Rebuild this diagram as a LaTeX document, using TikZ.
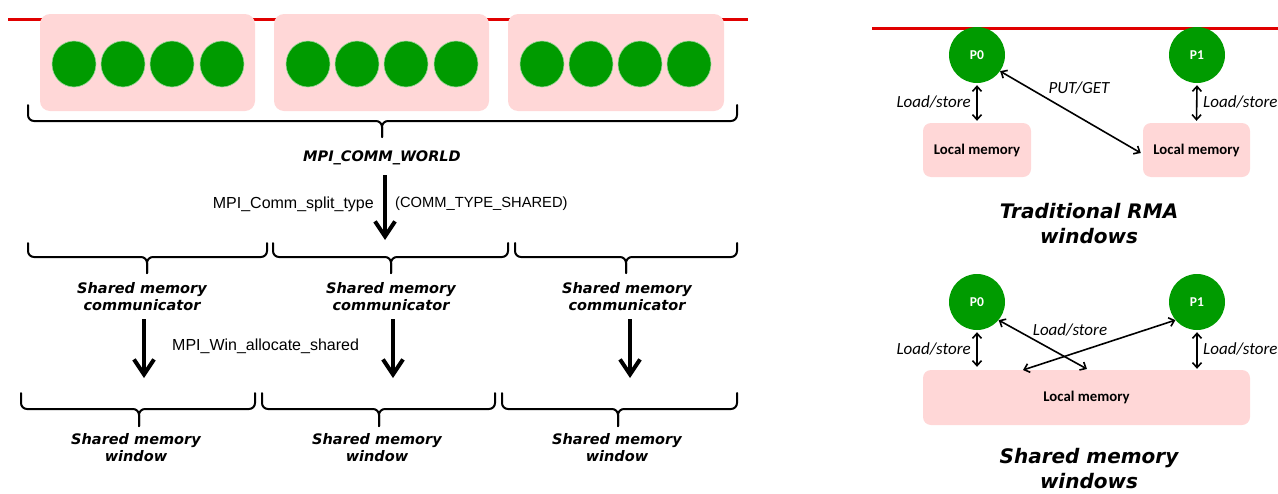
\documentclass[tikz,border=0pt]{standalone}
\usepackage{fontspec}
\setmainfont{DejaVu Sans}
\newfontfamily\verd{DejaVu Sans}
\newfontfamily\libs{Liberation Sans}
\newfontfamily\calib{Carlito}
\usetikzlibrary{arrows.meta,shapes.geometric}
\definecolor{pinkbox}{RGB}{255,215,215}
\definecolor{procgreen}{RGB}{0,155,0}
\definecolor{redline}{RGB}{224,0,0}
\tikzset{
  bracestyle/.style={line width=2pt, rounded corners=6pt, line cap=round},
  groupbox/.style={fill=pinkbox, rounded corners=10pt, minimum height=97pt, inner sep=0pt},
  proc/.style={ellipse, fill=procgreen, draw=procgreen!40!white, line width=0.6pt, minimum width=44pt, minimum height=46pt, inner sep=0pt},
  bigproc/.style={circle, fill=procgreen, minimum size=56pt, inner sep=0pt, text=white, font=\calib\bfseries\fontsize{13.5}{15}\selectfont},
  membox/.style={fill=pinkbox, rounded corners=8pt, minimum height=55pt, inner sep=0pt, font=\calib\bfseries\fontsize{14.8}{16}\selectfont},
  ltitle/.style={font=\verd\bfseries\itshape\fontsize{14.5}{17}\selectfont, align=center, inner sep=0pt},
  rtitle/.style={font=\verd\bfseries\itshape\fontsize{20}{25}\selectfont, align=center, inner sep=0pt},
  calltxt/.style={font=\libs\fontsize{16}{18}\selectfont, inner sep=0pt},
  capstxt/.style={font=\libs\fontsize{14.7}{18}\selectfont, inner sep=0pt},
  lstxt/.style={font=\calib\itshape\fontsize{17}{19}\selectfont, inner sep=0pt},
  bigarrow/.style={line width=4pt, -{Straight Barb[length=15pt,width=20pt]}},
  dblarrow/.style={line width=1.6pt, {Straight Barb[length=5pt,width=9pt]}-{Straight Barb[length=5pt,width=9pt]}},
  redrule/.style={draw=redline, line width=3pt}
}
\newcommand\bracedn[6]{%
  \draw[bracestyle] (#1,#4) -- (#1,#5) -- (#3,#5) -- (#3,#6);
  \draw[bracestyle] (#2,#4) -- (#2,#5) -- (#3,#5) -- (#3,#6);}
\begin{document}
\begin{tikzpicture}[x=1pt,y=-1pt]
\useasboundingbox (0,0) rectangle (1278,493);
% ---------------- left panel ----------------
\coordinate (rl0) at (8,19);
\coordinate (rl1) at (748,19);
\draw[redrule] (rl0) -- (rl1);
\node[groupbox, minimum width=215pt] (g1) at (147.5,62.5) {};
\node[groupbox, minimum width=215pt] (g2) at (381.5,62.5) {};
\node[groupbox, minimum width=216pt] (g3) at (616,62.5) {};
\foreach \i/\x in {1/74,2/123,3/172,4/222}{\node[proc] (pa\i) at (\x,64) {};}
\foreach \i/\x in {1/308,2/357,3/406,4/456}{\node[proc] (pb\i) at (\x,64) {};}
\foreach \i/\x in {1/542,2/591,3/640,4/689}{\node[proc] (pc\i) at (\x,64) {};}

\bracedn{28}{737}{382}{105}{121}{137}
\node[ltitle] (world) at (382,158) {MPI\_COMM\_WORLD};

\coordinate (s0) at (385,175);
\coordinate (s1) at (385,240);
\draw[bigarrow] (s0) -- (s1);
\node[calltxt, anchor=east] (split) at (374,204) {MPI\_Comm\_split\_type};
\node[capstxt, anchor=west] (shared) at (395,204) {(COMM\_TYPE\_SHARED)};

\bracedn{28}{267}{147}{243}{257}{273}
\bracedn{273}{508}{391}{243}{257}{273}
\bracedn{515}{737}{626}{243}{257}{273}
\node[ltitle] (comm1) at (142,297) {Shared memory\\communicator};
\node[ltitle] (comm2) at (391,297) {Shared memory\\communicator};
\node[ltitle] (comm3) at (627,297) {Shared memory\\communicator};

\coordinate (w1a) at (144,319); \coordinate (w1b) at (144,378);
\coordinate (w2a) at (393,319); \coordinate (w2b) at (393,378);
\coordinate (w3a) at (630,319); \coordinate (w3b) at (630,378);
\draw[bigarrow] (w1a) -- (w1b);
\draw[bigarrow] (w2a) -- (w2b);
\draw[bigarrow] (w3a) -- (w3b);
\node[calltxt, anchor=west] (alloc) at (172,346) {MPI\_Win\_allocate\_shared};

\bracedn{21}{255}{139}{393}{409}{426}
\bracedn{262}{495}{379}{393}{409}{426}
\bracedn{502}{737}{618}{393}{409}{426}
\node[ltitle] (win1) at (136,448) {Shared memory\\window};
\node[ltitle] (win2) at (377,448) {Shared memory\\window};
\node[ltitle] (win3) at (617,448) {Shared memory\\window};

% ---------------- right panel: traditional RMA ----------------
\coordinate (rr0) at (872,28);
\coordinate (rr1) at (1278,28);
\draw[redrule] (rr0) -- (rr1);
\node[bigproc] (tp0) at (977,55) {P0};
\node[bigproc] (tp1) at (1197,55) {P1};
\node[membox, minimum width=108pt, minimum height=54pt] (tm0) at (977,150) {Local memory};
\node[membox, minimum width=107pt, minimum height=54pt] (tm1) at (1196.5,150) {Local memory};
\draw[dblarrow] ([yshift=-2pt]tp0.south) -- ([yshift=2pt]tm0.north);
\draw[dblarrow] ([yshift=-2pt]tp1.south) -- ([yshift=2pt]tm1.north);
\draw[dblarrow] (tp0.-35) -- ([xshift=-2pt,yshift=-3pt]tm1.west);
\node[lstxt, anchor=east] (tls0) at (971,102) {Load/store};
\node[lstxt, anchor=west] (tls1) at (1203,102) {Load/store};
\node[lstxt] (putget) at (1079,88) {PUT/GET};
\node[rtitle] (trtitle) at (1089,224) {Traditional RMA\\windows};

% ---------------- right panel: shared memory windows ----------------
\node[bigproc] (sp0) at (977,302) {P0};
\node[bigproc] (sp1) at (1197,302) {P1};
\node[membox, minimum width=327pt] (sm) at (1086.5,397.5) {Local memory};
\coordinate (x0) at (1087,369);
\coordinate (x1) at (1023,370);
\draw[dblarrow] ([yshift=-2pt]sp0.south) -- ([yshift=3pt]sp0.south |- sm.north);
\draw[dblarrow] ([yshift=-2pt]sp1.south) -- ([yshift=1pt]sp1.south |- sm.north);
\draw[dblarrow] (sp0.-40) -- (x0);
\draw[dblarrow] (sp1.-140) -- (x1);
\node[lstxt, anchor=east] (sls0) at (971,349) {Load/store};
\node[lstxt, anchor=west] (sls1) at (1203,349) {Load/store};
\node[lstxt] (slsx) at (1070,330) {Load/store};
\node[rtitle] (shtitle) at (1089,469) {Shared memory\\windows};
\end{tikzpicture}
\end{document}
